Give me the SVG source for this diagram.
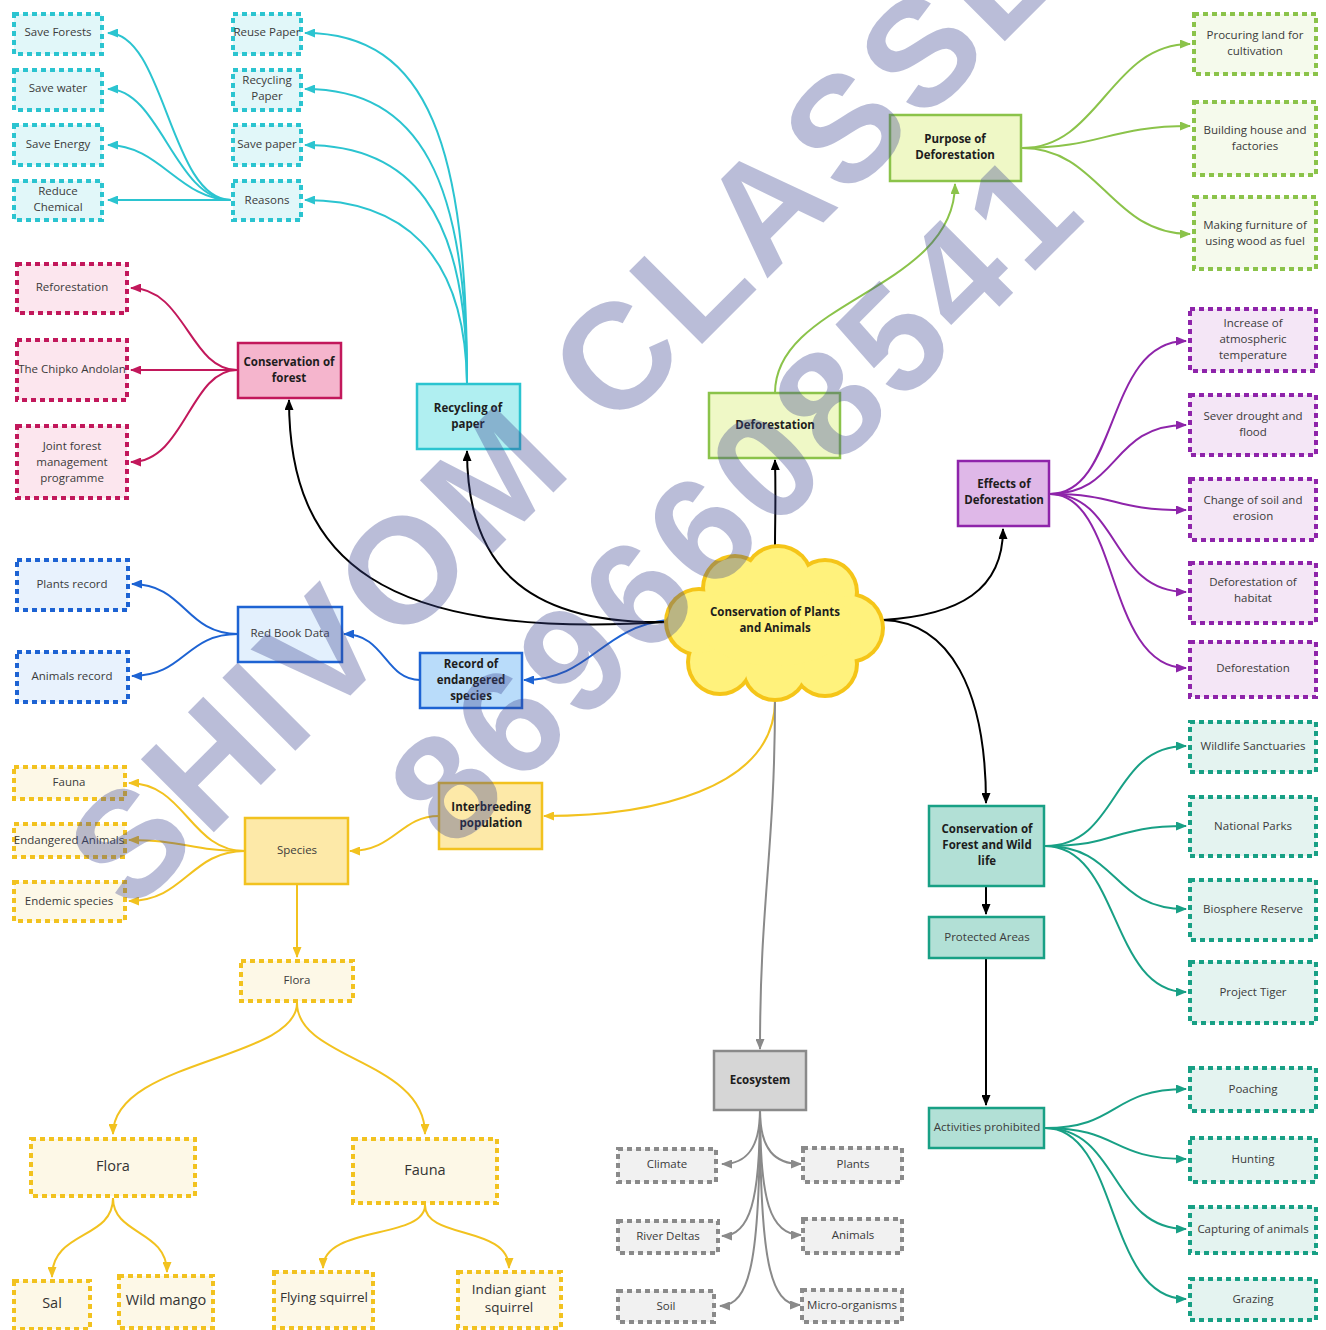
<svg xmlns="http://www.w3.org/2000/svg" width="1326" height="1330" viewBox="0 0 1326 1330">
<style>
text{font-family:"Open Sans","DejaVu Sans",sans-serif;font-size:11.5px;fill:#3b3b3b;text-anchor:middle}
text.b{font-weight:700;fill:#1d1d1d}
text.L{font-size:14.5px;fill:#333}
.c path{fill:none;stroke-width:2}
.d{stroke-width:4;stroke-dasharray:5 4}
.s{stroke-width:2.5}
.cy{stroke:#2bc4d0}.cyd{fill:#e1f7f9}.cys{fill:#b0eff1}
.pk{stroke:#c2185b}.pkd{fill:#fce6ee}.pks{fill:#f5b5cd}
.bl{stroke:#1d63d3}.bld{fill:#e8f2fd}.bls{fill:#e3f0fd}.bls2{fill:#b9dcfa}
.ye{stroke:#f2c21f}.yed{fill:#fdf8e7}.yes{fill:#fde9a8}
.gr{stroke:#8bc34a}.grd{fill:#f5faec}.grs{fill:#eff8c6}
.pu{stroke:#8e24aa}.pud{fill:#f4e6f6}.pus{fill:#dfb8e8}
.te{stroke:#18a085}.ted{fill:#e4f3f0}.tes{fill:#b2e0d6}
.ga{stroke:#8a8a8a}.gad{fill:#f1f1f1}.gas{fill:#d6d6d6}
.k{stroke:#000}
</style>
<defs>
<marker id="mcy" markerUnits="userSpaceOnUse" markerWidth="11" markerHeight="9" refX="10" refY="4.5" orient="auto"><path d="M0,0 L11,4.5 L0,9 z" fill="#2bc4d0"/></marker>
<marker id="mpk" markerUnits="userSpaceOnUse" markerWidth="11" markerHeight="9" refX="10" refY="4.5" orient="auto"><path d="M0,0 L11,4.5 L0,9 z" fill="#c2185b"/></marker>
<marker id="mbl" markerUnits="userSpaceOnUse" markerWidth="11" markerHeight="9" refX="10" refY="4.5" orient="auto"><path d="M0,0 L11,4.5 L0,9 z" fill="#1d63d3"/></marker>
<marker id="mye" markerUnits="userSpaceOnUse" markerWidth="11" markerHeight="9" refX="10" refY="4.5" orient="auto"><path d="M0,0 L11,4.5 L0,9 z" fill="#f2c21f"/></marker>
<marker id="mgr" markerUnits="userSpaceOnUse" markerWidth="11" markerHeight="9" refX="10" refY="4.5" orient="auto"><path d="M0,0 L11,4.5 L0,9 z" fill="#8bc34a"/></marker>
<marker id="mpu" markerUnits="userSpaceOnUse" markerWidth="11" markerHeight="9" refX="10" refY="4.5" orient="auto"><path d="M0,0 L11,4.5 L0,9 z" fill="#8e24aa"/></marker>
<marker id="mte" markerUnits="userSpaceOnUse" markerWidth="11" markerHeight="9" refX="10" refY="4.5" orient="auto"><path d="M0,0 L11,4.5 L0,9 z" fill="#18a085"/></marker>
<marker id="mga" markerUnits="userSpaceOnUse" markerWidth="11" markerHeight="9" refX="10" refY="4.5" orient="auto"><path d="M0,0 L11,4.5 L0,9 z" fill="#8a8a8a"/></marker>
<marker id="mk" markerUnits="userSpaceOnUse" markerWidth="11" markerHeight="9" refX="10" refY="4.5" orient="auto"><path d="M0,0 L11,4.5 L0,9 z" fill="#000"/></marker>
</defs>
<rect width="1326" height="1330" fill="#fff"/>

<g id="connectors" class="c">
<g class="cy" marker-end="url(#mcy)">
<path d="M231,200 C170,200 165,33 108,33"/>
<path d="M231,200 C175,200 160,89 108,89"/>
<path d="M231,200 C180,200 160,145 108,145"/>
<path d="M231,200 L108,200"/>
<path d="M467,383 C467,150 430,33 305,33"/>
<path d="M467,383 C467,180 420,89 305,89"/>
<path d="M467,383 C467,210 410,145 305,145"/>
<path d="M467,383 C465,250 400,200 305,200"/>
</g>
<g class="pk" marker-end="url(#mpk)">
<path d="M237,370 C190,370 185,288 131,288"/>
<path d="M237,370 L131,370"/>
<path d="M237,370 C190,370 185,462 131,462"/>
</g>
<g class="bl" marker-end="url(#mbl)">
<path d="M238,634 C185,634 185,584 132,584"/>
<path d="M238,634 C185,634 185,676 132,676"/>
<path d="M420,680 C385,680 385,634 344,634"/>
<path d="M667,620 C600,628 590,680 524,680"/>
</g>
<g class="ye" marker-end="url(#mye)">
<path d="M775,700 C775,790 650,816 544,816"/>
<path d="M439,816 C400,816 395,851 350,851"/>
<path d="M245,851 C190,851 185,783 129,783"/>
<path d="M245,851 C190,851 185,840 129,840"/>
<path d="M245,851 C190,851 185,901 129,901"/>
<path d="M297,884 L297,957"/>
<path d="M297,1003 C297,1060 113,1060 113,1134"/>
<path d="M297,1003 C297,1060 425,1060 425,1134"/>
<path d="M113,1198 C113,1240 52,1230 52,1277"/>
<path d="M113,1198 C113,1235 167,1230 167,1272"/>
<path d="M425,1205 C425,1240 323,1225 323,1268"/>
<path d="M425,1205 C425,1240 509,1225 509,1268"/>
</g>
<g class="ga" marker-end="url(#mga)">
<path d="M775,698 C775,850 760,900 760,1049"/>
<path d="M760,1110 C760,1150 745,1164 722,1164"/>
<path d="M760,1110 C760,1200 750,1236 722,1236"/>
<path d="M760,1110 C760,1260 750,1306 720,1306"/>
<path d="M760,1110 C760,1150 775,1164 801,1164"/>
<path d="M760,1110 C760,1200 770,1235 801,1235"/>
<path d="M760,1110 C760,1260 770,1305 800,1305"/>
</g>
<g class="gr" marker-end="url(#mgr)">
<path d="M775,393 C775,300 955,290 955,184"/>
<path d="M1022,148 C1100,148 1110,44 1190,44"/>
<path d="M1022,148 C1100,148 1110,126 1190,126"/>
<path d="M1022,148 C1100,148 1110,234 1190,234"/>
</g>
<g class="pu" marker-end="url(#mpu)">
<path d="M1050,494 C1120,494 1105,341 1186,341"/>
<path d="M1050,494 C1120,494 1110,425 1186,425"/>
<path d="M1050,494 C1120,494 1110,510 1186,510"/>
<path d="M1050,494 C1120,494 1110,592 1186,592"/>
<path d="M1050,494 C1120,494 1105,668 1186,668"/>
</g>
<g class="te" marker-end="url(#mte)">
<path d="M1045,846 C1120,846 1110,746 1186,746"/>
<path d="M1045,846 C1120,846 1110,826 1186,826"/>
<path d="M1045,846 C1120,846 1110,909 1186,909"/>
<path d="M1045,846 C1120,846 1110,992 1186,992"/>
<path d="M1045,1128 C1120,1128 1110,1089 1186,1089"/>
<path d="M1045,1128 C1120,1128 1110,1159 1186,1159"/>
<path d="M1045,1128 C1120,1128 1110,1229 1186,1229"/>
<path d="M1045,1128 C1120,1128 1105,1299 1186,1299"/>
</g>
<g class="k" marker-end="url(#mk)" style="stroke-width:2.3">
<path d="M883,620 C960,615 1003,590 1003,529"/>
<path d="M883,620 C950,622 986,690 986,803"/>
<path d="M986,887 L986,914"/>
<path d="M986,959 L986,1105"/>
<path d="M775,548 C775,520 776,500 775,460"/>
<path d="M667,622 C380,640 289,560 289,400"/>
<path d="M667,622 C520,625 467,560 467,451"/>
</g>
</g>

<g id="n-save-forests"><rect class="d cy cyd" x="14" y="14" width="88" height="40"/><text x="58" y="36">Save Forests</text></g>
<g id="n-save-water"><rect class="d cy cyd" x="14" y="70" width="88" height="40"/><text x="58" y="92">Save water</text></g>
<g id="n-save-energy"><rect class="d cy cyd" x="14" y="125" width="88" height="40"/><text x="58" y="148">Save Energy</text></g>
<g id="n-reduce-chemical"><rect class="d cy cyd" x="14" y="181" width="88" height="39"/><text x="58" y="195">Reduce</text><text x="58" y="211">Chemical</text></g>
<g id="n-reuse-paper"><rect class="d cy cyd" x="233" y="14" width="68" height="40"/><text x="267" y="36">Reuse Paper</text></g>
<g id="n-recycling-paper"><rect class="d cy cyd" x="233" y="70" width="68" height="40"/><text x="267" y="84">Recycling</text><text x="267" y="100">Paper</text></g>
<g id="n-save-paper"><rect class="d cy cyd" x="233" y="125" width="68" height="40"/><text x="267" y="148">Save paper</text></g>
<g id="n-reasons"><rect class="d cy cyd" x="233" y="181" width="68" height="39"/><text x="267" y="204">Reasons</text></g>
<g id="n-recycling-of-paper"><rect class="s cy cys" x="417" y="384" width="103" height="65"/><text class="b" x="468" y="412">Recycling of</text><text class="b" x="468" y="428">paper</text></g>

<g id="n-reforestation"><rect class="d pk pkd" x="17" y="264" width="110" height="49"/><text x="72" y="291">Reforestation</text></g>
<g id="n-chipko"><rect class="d pk pkd" x="17" y="340" width="110" height="60"/><text x="72" y="373">The Chipko Andolan</text></g>
<g id="n-joint-forest"><rect class="d pk pkd" x="17" y="426" width="110" height="72"/><text x="72" y="450">Joint forest</text><text x="72" y="466">management</text><text x="72" y="482">programme</text></g>
<g id="n-conservation-forest"><rect class="s pk pks" x="238" y="343" width="103" height="55"/><text class="b" x="289" y="366">Conservation of</text><text class="b" x="289" y="382">forest</text></g>

<g id="n-plants-record"><rect class="d bl bld" x="17" y="560" width="111" height="50"/><text x="72" y="588">Plants record</text></g>
<g id="n-animals-record"><rect class="d bl bld" x="17" y="652" width="111" height="50"/><text x="72" y="680">Animals record</text></g>
<g id="n-red-book"><rect class="s bl bls" x="238" y="607" width="104" height="55"/><text x="290" y="637">Red Book Data</text></g>
<g id="n-record-endangered"><rect class="s bl bls2" x="420" y="653" width="102" height="55"/><text class="b" x="471" y="668">Record of</text><text class="b" x="471" y="684">endangered</text><text class="b" x="471" y="700">species</text></g>

<g id="n-fauna-small"><rect class="d ye yed" x="14" y="767" width="111" height="32"/><text x="69" y="786">Fauna</text></g>
<g id="n-endangered-animals"><rect class="d ye yed" x="14" y="824" width="111" height="33"/><text x="69" y="844">Endangered Animals</text></g>
<g id="n-endemic"><rect class="d ye yed" x="14" y="882" width="111" height="39"/><text x="69" y="905">Endemic species</text></g>
<g id="n-species"><rect class="s ye yes" x="245" y="818" width="103" height="66"/><text x="297" y="854">Species</text></g>
<g id="n-interbreeding"><rect class="s ye yes" x="439" y="783" width="103" height="66"/><text class="b" x="491" y="811">Interbreeding</text><text class="b" x="491" y="827">population</text></g>
<g id="n-flora-small"><rect class="d ye yed" x="241" y="961" width="112" height="40"/><text x="297" y="984">Flora</text></g>
<g id="n-flora"><rect class="d ye yed" x="31" y="1139" width="164" height="57"/><text class="L" x="113" y="1171">Flora</text></g>
<g id="n-fauna"><rect class="d ye yed" x="353" y="1139" width="144" height="64"/><text class="L" x="425" y="1175">Fauna</text></g>
<g id="n-sal"><rect class="d ye yed" x="14" y="1281" width="76" height="48"/><text class="L" x="52" y="1308">Sal</text></g>
<g id="n-wild-mango"><rect class="d ye yed" x="119" y="1276" width="94" height="52"/><text class="L" x="166" y="1305">Wild mango</text></g>
<g id="n-flying-squirrel"><rect class="d ye yed" x="274" y="1272" width="99" height="56"/><text class="L" x="324" y="1302" style="font-size:13.5px">Flying squirrel</text></g>
<g id="n-indian-giant"><rect class="d ye yed" x="458" y="1272" width="103" height="56"/><text class="L" x="509" y="1294" style="font-size:13.5px">Indian giant</text><text class="L" x="509" y="1312" style="font-size:13.5px">squirrel</text></g>

<g id="n-cloud">
<g fill="#f5c518">
<circle cx="735" cy="588" r="34"/><circle cx="778" cy="580" r="36"/><circle cx="825" cy="592" r="34"/><circle cx="849" cy="628" r="36"/><circle cx="825" cy="664" r="34"/><circle cx="775" cy="668" r="34"/><circle cx="720" cy="662" r="34"/><circle cx="699" cy="622" r="35"/>
</g>
<g fill="#fff27c">
<circle cx="735" cy="588" r="30"/><circle cx="778" cy="580" r="32"/><circle cx="825" cy="592" r="30"/><circle cx="849" cy="628" r="32"/><circle cx="825" cy="664" r="30"/><circle cx="775" cy="668" r="30"/><circle cx="720" cy="662" r="30"/><circle cx="699" cy="622" r="31"/>
<ellipse cx="775" cy="624" rx="76" ry="42"/>
</g>
<text class="b" x="775" y="616">Conservation of Plants</text><text class="b" x="775" y="632">and Animals</text>
</g>

<g id="n-deforestation"><rect class="s gr grs" x="709" y="393" width="131" height="65"/><text class="b" x="775" y="429">Deforestation</text></g>
<g id="n-purpose"><rect class="s gr grs" x="890" y="115" width="131" height="66"/><text class="b" x="955" y="143">Purpose of</text><text class="b" x="955" y="159">Deforestation</text></g>
<g id="n-procuring"><rect class="d gr grd" x="1194" y="14" width="122" height="60"/><text x="1255" y="39">Procuring land for</text><text x="1255" y="55">cultivation</text></g>
<g id="n-building"><rect class="d gr grd" x="1194" y="102" width="122" height="73"/><text x="1255" y="134">Building house and</text><text x="1255" y="150">factories</text></g>
<g id="n-furniture"><rect class="d gr grd" x="1194" y="197" width="122" height="72"/><text x="1255" y="229">Making furniture of</text><text x="1255" y="245">using wood as fuel</text></g>

<g id="n-effects"><rect class="s pu pus" x="958" y="461" width="91" height="65"/><text class="b" x="1004" y="488">Effects of</text><text class="b" x="1004" y="504">Deforestation</text></g>
<g id="n-increase"><rect class="d pu pud" x="1190" y="309" width="126" height="62"/><text x="1253" y="327">Increase of</text><text x="1253" y="343">atmospheric</text><text x="1253" y="359">temperature</text></g>
<g id="n-sever"><rect class="d pu pud" x="1190" y="395" width="126" height="60"/><text x="1253" y="420">Sever drought and</text><text x="1253" y="436">flood</text></g>
<g id="n-change"><rect class="d pu pud" x="1190" y="479" width="126" height="61"/><text x="1253" y="504">Change of soil and</text><text x="1253" y="520">erosion</text></g>
<g id="n-def-habitat"><rect class="d pu pud" x="1190" y="563" width="126" height="60"/><text x="1253" y="586">Deforestation of</text><text x="1253" y="602">habitat</text></g>
<g id="n-deforestation-2"><rect class="d pu pud" x="1190" y="642" width="126" height="55"/><text x="1253" y="672">Deforestation</text></g>

<g id="n-cfw"><rect class="s te tes" x="929" y="806" width="115" height="80"/><text class="b" x="987" y="833">Conservation of</text><text class="b" x="987" y="849">Forest and Wild</text><text class="b" x="987" y="865">life</text></g>
<g id="n-protected"><rect class="s te tes" x="929" y="917" width="115" height="41"/><text x="987" y="941">Protected Areas</text></g>
<g id="n-activities"><rect class="s te tes" x="929" y="1108" width="115" height="40"/><text x="987" y="1131">Activities prohibited</text></g>
<g id="n-wildlife"><rect class="d te ted" x="1190" y="722" width="126" height="50"/><text x="1253" y="750">Wildlife Sanctuaries</text></g>
<g id="n-national"><rect class="d te ted" x="1190" y="797" width="126" height="59"/><text x="1253" y="830">National Parks</text></g>
<g id="n-biosphere"><rect class="d te ted" x="1190" y="880" width="126" height="60"/><text x="1253" y="913">Biosphere Reserve</text></g>
<g id="n-tiger"><rect class="d te ted" x="1190" y="962" width="126" height="61"/><text x="1253" y="996">Project Tiger</text></g>
<g id="n-poaching"><rect class="d te ted" x="1190" y="1068" width="126" height="43"/><text x="1253" y="1093">Poaching</text></g>
<g id="n-hunting"><rect class="d te ted" x="1190" y="1138" width="126" height="44"/><text x="1253" y="1163">Hunting</text></g>
<g id="n-capturing"><rect class="d te ted" x="1190" y="1207" width="126" height="46"/><text x="1253" y="1233">Capturing of animals</text></g>
<g id="n-grazing"><rect class="d te ted" x="1190" y="1279" width="126" height="41"/><text x="1253" y="1303">Grazing</text></g>

<g id="n-ecosystem"><rect class="s ga gas" x="714" y="1051" width="92" height="59"/><text class="b" x="760" y="1084">Ecosystem</text></g>
<g id="n-climate"><rect class="d ga gad" x="618" y="1149" width="98" height="33"/><text x="667" y="1168">Climate</text></g>
<g id="n-river"><rect class="d ga gad" x="618" y="1221" width="100" height="32"/><text x="668" y="1240">River Deltas</text></g>
<g id="n-soil"><rect class="d ga gad" x="618" y="1291" width="96" height="31"/><text x="666" y="1310">Soil</text></g>
<g id="n-plants"><rect class="d ga gad" x="803" y="1148" width="99" height="34"/><text x="853" y="1168">Plants</text></g>
<g id="n-animals"><rect class="d ga gad" x="803" y="1219" width="99" height="34"/><text x="853" y="1239">Animals</text></g>
<g id="n-micro"><rect class="d ga gad" x="802" y="1290" width="100" height="32"/><text x="852" y="1309">Micro-organisms</text></g>

<g id="watermark" opacity="0.35" fill="#3c4691">
<text x="131" y="915" transform="rotate(-45 131 915)" style="font-family:'Liberation Sans',Arial,sans-serif;font-weight:700;font-size:150px;letter-spacing:7px;text-anchor:start;fill:#3c4691">SHIVOM CLASSES</text>
<text x="453" y="853" transform="rotate(-45 453 853)" style="font-family:'Liberation Sans',Arial,sans-serif;font-weight:700;font-size:150px;letter-spacing:7px;text-anchor:start;fill:#3c4691">8696608541</text>
</g>
</svg>
